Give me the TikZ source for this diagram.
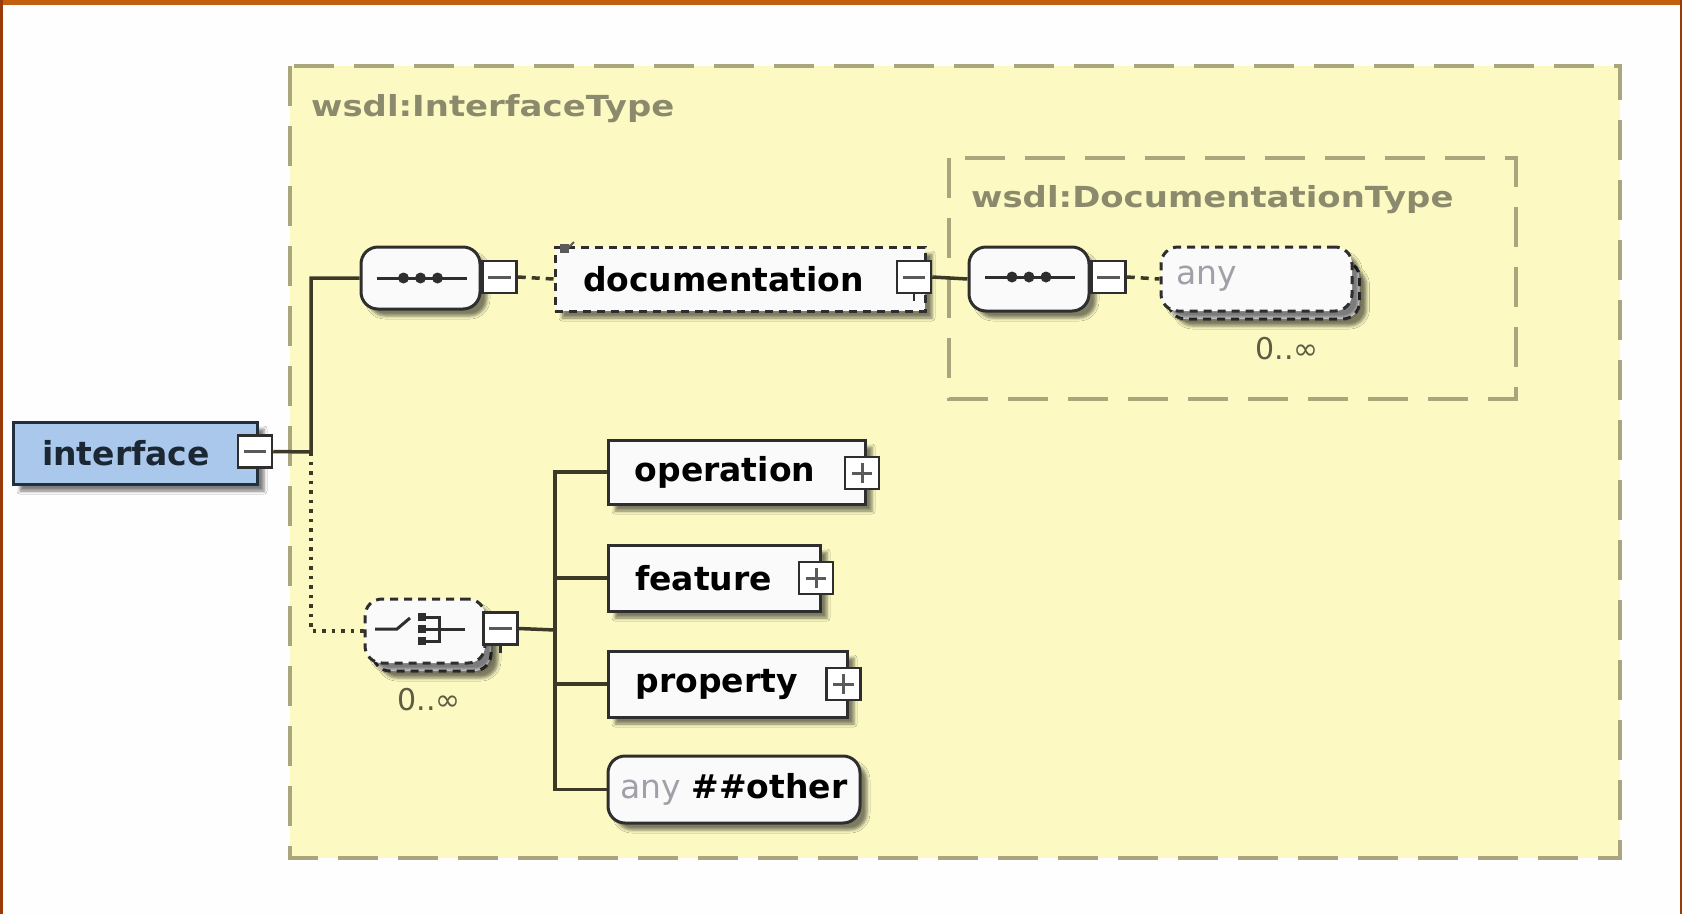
\documentclass[tikz,border=0pt]{standalone}
\usepackage{fontspec}
\setmainfont{DejaVu Sans}
\usetikzlibrary{shadows.blur}

\definecolor{pagebg}{HTML}{FEFEFE}
\definecolor{framebar}{HTML}{C2600E}
\definecolor{frameside}{HTML}{9A3A08}
\definecolor{typefill}{HTML}{FCFAC2}
\definecolor{typeline}{HTML}{A9A67E}
\definecolor{typetext}{HTML}{8C8A6C}
\definecolor{linecol}{HTML}{3C3A26}
\definecolor{nodeline}{HTML}{2E2E2E}
\definecolor{nodefill}{HTML}{FAFAFA}
\definecolor{rootfill}{HTML}{A9C8EC}
\definecolor{rootline}{HTML}{22303E}
\definecolor{anygray}{HTML}{A0A0A8}
\definecolor{signgray}{HTML}{5A5A5A}
\definecolor{occurcol}{HTML}{5E5C44}

\begin{document}
\begin{tikzpicture}[x=1pt,y=-1pt,
  soft/.style={blur shadow={shadow xshift=7pt,shadow yshift=-7pt,shadow blur radius=3pt,shadow opacity=50}},
  conn/.style={line width=3.5pt,draw=linecol},
  optconn/.style={line width=3.5pt,draw=linecol,dash pattern=on 8pt off 6pt},
  dotconn/.style={line width=3.5pt,draw=linecol,dash pattern=on 3.5pt off 6pt},
  typebox/.style={draw=typeline,line width=3.5pt,fill=typefill,dash pattern=on 40pt off 20pt},
  typelabel/.style={anchor=west,inner sep=0pt,text=typetext,font=\fontsize{29}{34}\selectfont\bfseries},
  elem/.style={rectangle,draw=nodeline,line width=3pt,fill=nodefill,inner sep=0pt,
    font=\fontsize{33}{38}\selectfont\bfseries,soft},
  optelem/.style={elem,dash pattern=on 8pt off 6pt},
  rootelem/.style={elem,fill=rootfill,draw=rootline,text=rootline!80!black},
  compositor/.style={rectangle,rounded corners=17pt,draw=nodeline,
    line width=3pt,fill=nodefill,inner sep=0pt,soft},
  optcompositor/.style={compositor,dash pattern=on 8pt off 6pt},
  wildcard/.style={rectangle,rounded corners=17pt,draw=nodeline,
    line width=3pt,fill=nodefill,inner sep=0pt,font=\fontsize{33}{38}\selectfont,soft},
  stackcopy/.style={wildcard,dash pattern=on 8pt off 6pt},
  togglebox/.style={rectangle,draw=nodeline,line width=2.5pt,fill=white,inner sep=0pt,
    minimum width=34pt,minimum height=32pt},
  sign/.style={line width=3pt,draw=signgray},
  occurs/.style={inner sep=0pt,text=occurcol,font=\fontsize{30}{34}\selectfont}
]
\useasboundingbox (0,0) rectangle (1682,914);

% page and frame
\fill[pagebg] (0,0) rectangle (1682,914);
\fill[framebar] (0,0) rectangle (1682,4.5);
\fill[frameside] (0,0) rectangle (2.5,914);
\fill[frameside] (1679.5,0) rectangle (1682,914);

% complex type containers
\draw[typebox] (290,66) rectangle (1620,858);
\node[typelabel] (itlabel) at (311,109) {\scalebox{1.17}[1]{wsdl:InterfaceType}};
\draw[typebox] (949,158) rectangle (1516,399);
\node[typelabel] (dtlabel) at (971,200) {\scalebox{1.17}[1]{wsdl:DocumentationType}};

% root element
\node[rootelem,minimum width=244pt,minimum height=62pt] (iface) at (135,453) {interface\hspace{18pt}\null};
\node[togglebox] (miface) at (255,451.5) {};
\draw[sign] ([xshift=7pt]miface.west) -- ([xshift=-7pt]miface.east);

% first sequence and documentation
\node[compositor,minimum width=119pt,minimum height=62pt] (seqa) at (420.5,278) {};
\node[togglebox] (mseqa) at (499.5,277) {};
\draw[sign] ([xshift=7pt]mseqa.west) -- ([xshift=-7pt]mseqa.east);

\node[optelem,minimum width=370pt,minimum height=64pt] (doc) at (740,279) {documentation\hspace{33pt}\null};
\node[togglebox] (mdoc) at (914,277) {};
\draw[sign] ([xshift=7pt]mdoc.west) -- ([xshift=-7pt]mdoc.east);
\draw[line width=2.5pt,draw=nodeline] (mdoc.south) -- ++(0,7);
% annotation marker on the documentation element
\fill[signgray] (560,244) rectangle (569,253);
\draw[line width=2pt,draw=signgray] (566,250) -- (574,242);

% sequence inside DocumentationType
\node[compositor,minimum width=120pt,minimum height=64pt] (seqb) at (1029,279) {};
\node[togglebox] (mseqb) at (1108.5,277) {};
\draw[sign] ([xshift=7pt]mseqb.west) -- ([xshift=-7pt]mseqb.east);

% any wildcard, repeated
\node[stackcopy,minimum width=191pt,minimum height=58pt] (anydocrep) at (1264,290) {};
\node[wildcard,dash pattern=on 8pt off 6pt,minimum width=191pt,minimum height=64pt,text=anygray] (anydoc) at (1256.5,279) {any\hspace{100pt}\null};
\node[occurs] (occdoc) at (1287,349) {0..∞};

% choice, repeated
\node[stackcopy,minimum width=118pt,minimum height=58pt] (choicerep) at (432,642) {};
\node[optcompositor,minimum width=120pt,minimum height=64pt] (choice) at (425,631) {};
\node[togglebox] (mchoice) at (500.5,628.5) {};
\draw[sign] ([xshift=7pt]mchoice.west) -- ([xshift=-7pt]mchoice.east);
\draw[line width=2.5pt,draw=nodeline] (mchoice.south) -- ++(0,7);
\node[occurs] (occchoice) at (429,700) {0..∞};

% children of the choice
\node[elem,minimum width=257pt,minimum height=64pt] (oper) at (736.5,472) {operation\hspace{23pt}\null};
\node[togglebox] (poper) at (862,473) {};
\draw[sign] ([xshift=8pt]poper.west) -- ([xshift=-8pt]poper.east);
\draw[sign] ([yshift=-7pt]poper.north) -- ([yshift=7pt]poper.south);

\node[elem,minimum width=212pt,minimum height=66pt] (feat) at (714,578) {feature\hspace{21pt}\null};
\node[togglebox] (pfeat) at (816,578) {};
\draw[sign] ([xshift=8pt]pfeat.west) -- ([xshift=-8pt]pfeat.east);
\draw[sign] ([yshift=-7pt]pfeat.north) -- ([yshift=7pt]pfeat.south);

\node[elem,minimum width=239pt,minimum height=66pt] (prop) at (727.5,684) {property\hspace{22pt}\null};
\node[togglebox] (pprop) at (843.5,684) {};
\draw[sign] ([xshift=8pt]pprop.west) -- ([xshift=-8pt]pprop.east);
\draw[sign] ([yshift=-7pt]pprop.north) -- ([yshift=7pt]pprop.south);

\node[wildcard,minimum width=252pt,minimum height=67pt] (other) at (734,789.5)
  {{\color{anygray}any} \textbf{\#\#other}};

% compositor symbols
\begin{scope}[shift={(seqa.center)}]
  \draw[line width=3pt,draw=nodeline] (-44,0) -- (46,0);
  \foreach \dx in {-17,0,17} \fill[nodeline] (\dx,0) circle (5.5);
\end{scope}
\begin{scope}[shift={(seqb.center)}]
  \draw[line width=3pt,draw=nodeline] (-44,-2) -- (46,-2);
  \foreach \dx in {-17,0,17} \fill[nodeline] (\dx,-2) circle (5.5);
\end{scope}
\begin{scope}[shift={(choice.center)}]
  \draw[line width=3pt,draw=nodeline] (-50,-2) -- (-28,-2) -- (-15,-13);
  \foreach \dy in {-14,-2,10} \fill[nodeline] (-7,\dy-4) rectangle (1,\dy+4);
  \draw[line width=3pt,draw=nodeline] (1,-14) -- (14,-14) -- (14,10) -- (1,10);
  \draw[line width=3pt,draw=nodeline] (1,-2) -- (40,-2);
\end{scope}

% connectors
\coordinate (rootjoin) at (311,452);
\coordinate (choicejoin) at (555,630);
\draw[conn] (miface.east) -- (rootjoin) |- (seqa.west);
\draw[dotconn] (rootjoin) |- (choice.west);
\draw[optconn] (mseqa.east) -- (doc.west);
\draw[conn] (mdoc.east) -- (seqb.west);
\draw[optconn] (mseqb.east) -- (anydoc.west);
\draw[conn] (mchoice.east) -- (choicejoin);
\draw[conn] (oper.west) -| (choicejoin);
\draw[conn] (other.west) -| (choicejoin);
\draw[conn] (feat.west) -- (feat.west -| choicejoin);
\draw[conn] (prop.west) -- (prop.west -| choicejoin);
\end{tikzpicture}
\end{document}
